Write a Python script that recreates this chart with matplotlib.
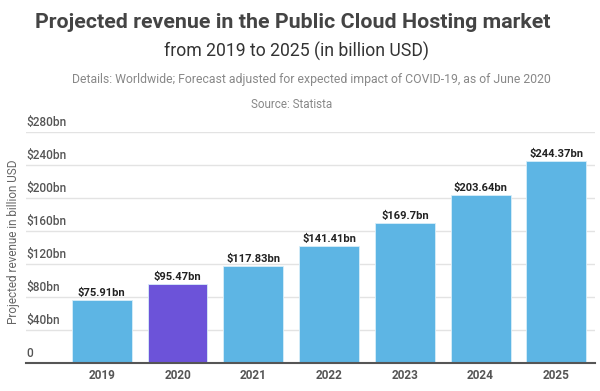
import matplotlib
matplotlib.use("Agg")
import matplotlib.pyplot as plt
from matplotlib.transforms import blended_transform_factory, offset_copy

plt.rcParams['font.family'] = ['Roboto', 'DejaVu Sans']

years = ["2019", "2020", "2021", "2022", "2023", "2024", "2025"]
revenue = [75.91, 95.47, 117.83, 141.41, 169.7, 203.64, 244.37]
value_labels = ["$75.91bn", "$95.47bn", "$117.83bn", "$141.41bn", "$169.7bn", "$203.64bn", "$244.37bn"]
bar_colors = ["#5db5e4", "#6c53d9", "#5db5e4", "#5db5e4", "#5db5e4", "#5db5e4", "#5db5e4"]
yticks = [0, 40, 80, 120, 160, 200, 240, 280]
ytick_labels = ["0", "$40bn", "$80bn", "$120bn", "$160bn", "$200bn", "$240bn", "$280bn"]

fig = plt.figure(figsize=(6, 3.91), dpi=100)
ax = fig.add_axes([26/600, 1 - 363/391, (595 - 26)/600, (363 - 132)/391])

x = list(range(len(years)))
ax.bar(x, revenue, width=0.79, color=bar_colors, edgecolor="#d8eef9", linewidth=0.6, zorder=3)

ax.set_xlim(-1.0, 6.51)
ax.set_ylim(0, 280)

for yt in yticks[1:]:
    ax.axhline(yt, color="#e3e3e3", linewidth=1.0, zorder=1)

for s in ["top", "right", "left"]:
    ax.spines[s].set_visible(False)
ax.spines["bottom"].set_color("#555555")
ax.spines["bottom"].set_linewidth(1.5)
ax.spines["bottom"].set_zorder(4)

ax.set_yticks([])
ax.set_xticks(x)
ax.set_xticklabels(years, fontsize=8.5, color="#555555", fontweight="bold")
ax.tick_params(axis="x", length=0, pad=4)

trans = blended_transform_factory(ax.transAxes, ax.transData)
trans = offset_copy(trans, fig=fig, x=0, y=2, units="points")
for yt, lab in zip(yticks, ytick_labels):
    ax.text(0.0, yt, lab, transform=trans, ha="left", va="bottom",
            fontsize=8.5, color="#555555", fontweight="medium")

vtrans = offset_copy(ax.transData, fig=fig, x=0, y=1.5, units="points")
for xi, v, lab in zip(x, revenue, value_labels):
    ax.text(xi, v, lab, transform=vtrans, ha="center", va="bottom",
            fontsize=8.0, color="#222222", fontweight="bold", zorder=5)

fig.text(14/600, 1 - 242/391, "Projected revenue in billion USD", rotation=90,
         ha="center", va="center", fontsize=8.5, color="#666666")

fig.text(293/600, 1 - 23/391, "Projected revenue in the Public Cloud Hosting market",
         ha="center", va="center", fontsize=15.4, fontweight="bold", color="#444444")
fig.text(296/600, 1 - 51/391, "from 2019 to 2025 (in billion USD)",
         ha="center", va="center", fontsize=12.7, color="#333333")
fig.text(311/600, 1 - 79/391, "Details: Worldwide; Forecast adjusted for expected impact of COVID-19, as of June 2020",
         ha="center", va="center", fontsize=8.8, color="#888888")
fig.text(292/600, 1 - 104/391, "Source: Statista",
         ha="center", va="center", fontsize=8.4, color="#888888")

fig.savefig("out.png", dpi=100)
